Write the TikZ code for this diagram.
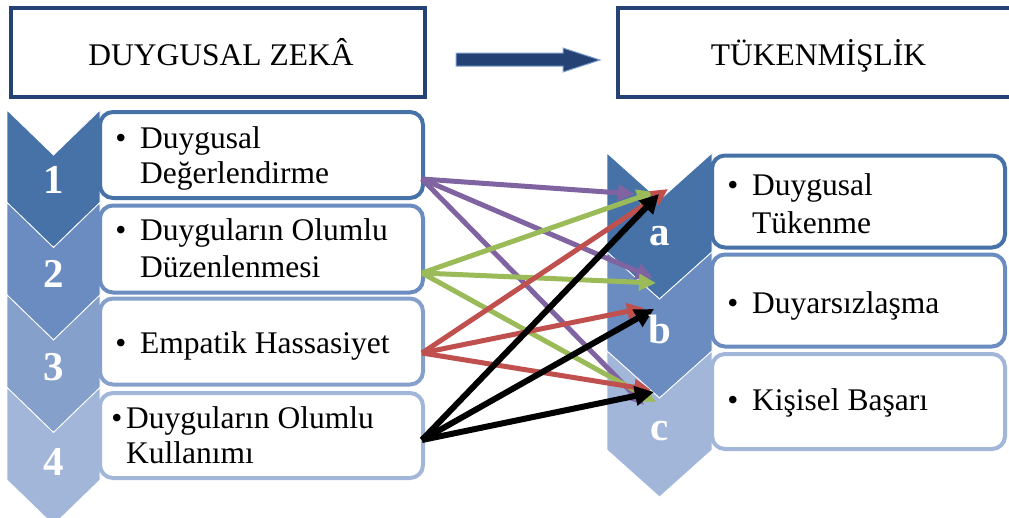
\documentclass[tikz,border=0pt]{standalone}
\usepackage{fontspec}
\setmainfont{Liberation Serif}
\usetikzlibrary{arrows.meta}

\definecolor{navy}{RGB}{36,66,116}
\definecolor{navyedge}{RGB}{125,160,205}
\definecolor{blueA}{RGB}{70,114,168}
\definecolor{blueB}{RGB}{106,140,192}
\definecolor{blueC}{RGB}{134,160,204}
\definecolor{blueD}{RGB}{162,182,217}
\definecolor{linkpurple}{RGB}{128,100,162}
\definecolor{linkgreen}{RGB}{155,187,89}
\definecolor{linkred}{RGB}{192,80,77}

\begin{document}
\begin{tikzpicture}[x=1pt,y=-1pt,
  titlebox/.style={draw=navy, line width=3.5pt, fill=white, inner sep=0pt},
  titleframe/.style={draw=navy, line width=3.5pt, line join=miter},
  titletext/.style={inner sep=0pt, anchor=base, font=\fontsize{31.5pt}{36pt}\selectfont},
  itembox/.style={rounded corners=13pt, line width=4pt, fill=white, inner sep=0pt},
  txt/.style={inner sep=0pt, anchor=base west, font=\fontsize{31.5pt}{36pt}\selectfont},
  bul/.style={inner sep=0pt, anchor=base, font=\fontsize{31.5pt}{36pt}\selectfont},
  tag/.style={inner sep=0pt, anchor=base, text=white, font=\fontsize{41pt}{41pt}\selectfont\bfseries},
  chev/.style={draw=white, line width=0.8pt},
  link/.style={line width=5pt, -{Triangle[length=17pt,width=16pt]}},
  blink/.style={line width=6pt, -{Triangle[length=19pt,width=19pt]}}
]
\useasboundingbox (0,0) rectangle (1009,517);

% ---- headings ----
\node[titlebox, minimum width=414pt, minimum height=89pt] (zeka) at (218,52.5) {};
\node[titletext] (zekat) at (221,65) {DUYGUSAL ZEKÂ};
% the right heading frame runs off the page edge, so only three sides are drawn
\node[inner sep=0pt, minimum width=404pt, minimum height=89pt] (tuk) at (820,52.5) {};
\draw[titleframe] (tuk.north east) -- (tuk.north west) -- (tuk.south west) -- (tuk.south east);
\node[titletext] (tukt) at (818.5,65) {TÜKENMİŞLİK};
% block arrow between the headings
\filldraw[fill=navy, draw=navyedge, line width=1pt]
  (456,53) -- (563,53) -- (563,48) -- (600,60) -- (563,72) -- (563,66) -- (456,66) -- cycle;

% ---- left chevrons ----
\foreach \i/\c in {0/blueA,1/blueB,2/blueC,3/blueD}{
  \fill[\c, chev] (7,{110+92.5*\i}) -- ++(46.5,45) -- ++(46.5,-45) -- ++(0,92.5)
    -- ++(-46.5,45) -- ++(-46.5,-45) -- cycle;
}
\node[tag] (n1) at (53.5,193) {1};
\node[tag] (n2) at (53.5,287) {2};
\node[tag] (n3) at (53.5,380) {3};
\node[tag] (n4) at (53.5,475) {4};

% ---- left items ----
\node[itembox, draw=blueA, minimum width=323pt, minimum height=86pt] (L1) at (261.5,155) {};
\node[itembox, draw=blueB, minimum width=323pt, minimum height=87pt] (L2) at (261.5,249) {};
\node[itembox, draw=blueC, minimum width=323pt, minimum height=86pt] (L3) at (261.5,341.5) {};
\node[itembox, draw=blueD, minimum width=323pt, minimum height=85pt] (L4) at (261.5,435.5) {};

\node[bul] (b1) at (121,148) {•};
\node[txt] (t1a) at (140,148) {Duygusal};
\node[txt] (t1b) at (140,183) {Değerlendirme};
\node[bul] (b2) at (121,240) {•};
\node[txt] (t2a) at (140,240) {Duyguların Olumlu};
\node[txt] (t2b) at (140,277) {Düzenlenmesi};
\node[bul] (b3) at (121,353) {•};
\node[txt] (t3a) at (140,353) {Empatik Hassasiyet};
\node[bul] (b4) at (117,428) {•};
\node[txt] (t4a) at (126,428) {Duyguların Olumlu};
\node[txt] (t4b) at (126,463) {Kullanımı};

% ---- right chevrons ----
\foreach \i/\c in {0/blueA,1/blueB,2/blueD}{
  \fill[\c, chev] (607,{153+99*\i}) -- ++(52.5,47) -- ++(52.5,-47) -- ++(0,99)
    -- ++(-52.5,47) -- ++(-52.5,-47) -- cycle;
}

% ---- right items ----
\node[itembox, draw=blueA, minimum width=293pt, minimum height=92pt] (Ra) at (858.5,201.5) {};
\node[itembox, draw=blueB, minimum width=293pt, minimum height=92pt] (Rb) at (858.5,300.5) {};
\node[itembox, draw=blueD, minimum width=293pt, minimum height=95pt] (Rc) at (858.5,401.5) {};

\node[bul] (ba) at (733,195) {•};
\node[txt] (tAa) at (752,195) {Duygusal};
\node[txt] (tAb) at (752,233) {Tükenme};
\node[bul] (bb) at (733,313) {•};
\node[txt] (tB) at (752,313) {Duyarsızlaşma};
\node[bul] (bc) at (733,410) {•};
\node[txt] (tC) at (752,410) {Kişisel Başarı};

% ---- connector ends ----
\coordinate (s1) at (422,179);
\coordinate (s2) at (422,273);
\coordinate (s3) at (422,353);
\coordinate (s4) at (422,440);

\coordinate (p1a) at (635,194);
\coordinate (p1b) at (653,278);
\coordinate (p1c) at (644,405);
\coordinate (p2a) at (654,192);
\coordinate (p2b) at (656,283);
\coordinate (p2c) at (656,402);
\coordinate (p3a) at (668,189);
\coordinate (p3b) at (644,308);
\coordinate (p3c) at (651,390);
\coordinate (p4a) at (659,194);
\coordinate (p4b) at (654,309);
\coordinate (p4c) at (654,392);

% ---- links ----
\draw[link, linkpurple] (s1) -- (p1a);
\draw[link, linkpurple] (s1) -- (p1b);
\draw[link, linkpurple] (s1) -- (p1c);
\draw[link, linkgreen] (s2) -- (p2a);
\draw[link, linkgreen] (s2) -- (p2b);
\draw[link, linkgreen] (s2) -- (p2c);
\draw[link, linkred] (s3) -- (p3a);
\draw[link, linkred] (s3) -- (p3b);
\draw[link, linkred] (s3) -- (p3c);
\draw[blink] (s4) -- (p4a);
\draw[blink] (s4) -- (p4b);
\draw[blink] (s4) -- (p4c);

% letters drawn last so they sit above the arrow tips
\node[tag] (la) at (659.5,245) {a};
\node[tag] (lb) at (659.5,343) {b};
\node[tag] (lc) at (659.5,440) {c};
\end{tikzpicture}
\end{document}
